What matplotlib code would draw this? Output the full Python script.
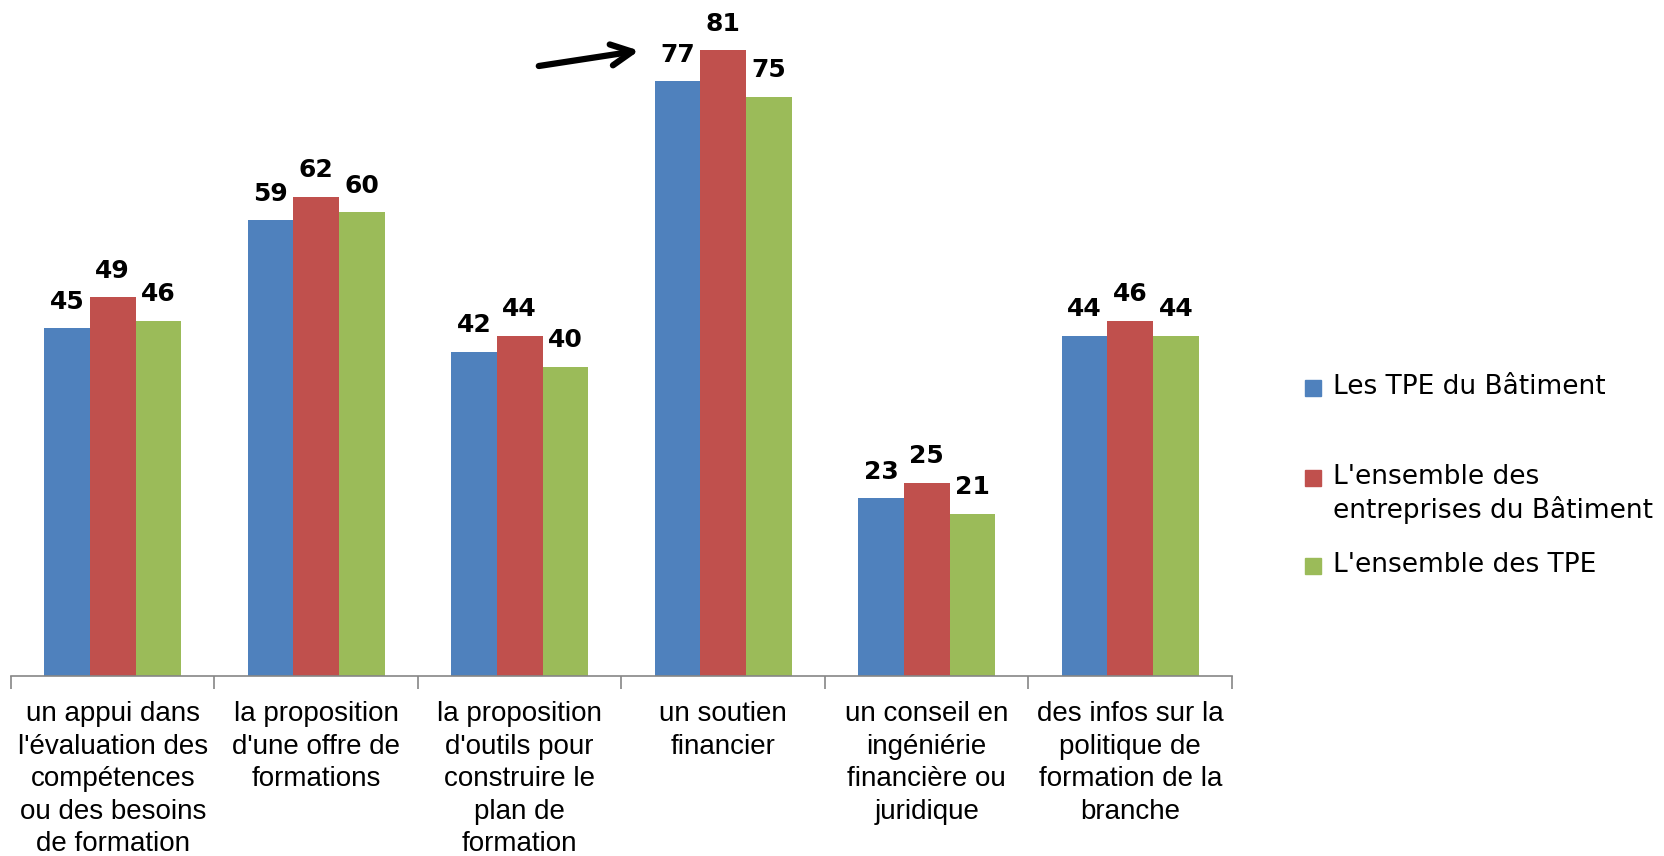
import numpy as np
import matplotlib
matplotlib.use("Agg")
from matplotlib import pyplot as plt
from matplotlib.patches import Rectangle

categories = ["un appui dans\nl'évaluation des\ncompétences\nou des besoins\nde formation",
              "la proposition\nd'une offre de\nformations",
              "la proposition\nd'outils pour\nconstruire le\nplan de\nformation",
              "un soutien\nfinancier",
              "un conseil en\ningéniérie\nfinancière ou\njuridique",
              "des infos sur la\npolitique de\nformation de la\nbranche"]
tpe_batiment = [45, 59, 42, 77, 23, 44]
ensemble_batiment = [49, 62, 44, 81, 25, 46]
ensemble_tpe = [46, 60, 40, 75, 21, 44]
series_names = ["Les TPE du Bâtiment",
                "L'ensemble des\nentreprises du Bâtiment",
                "L'ensemble des TPE"]
colors = ["#4F81BD", "#C0504D", "#9BBB59"]

W, H = 1665, 856
fig = plt.figure(figsize=(W / 100, H / 100), dpi=100)
ax = fig.add_axes([11 / W, (H - 676) / H, (1232 - 11) / W, 676 / H])

x = np.arange(len(categories))
bw = 0.224
series = [tpe_batiment, ensemble_batiment, ensemble_tpe]
for k, vals in enumerate(series):
    pos = x + (k - 1) * bw
    ax.bar(pos, vals, width=bw, color=colors[k], zorder=2)
    for p, v in zip(pos, vals):
        ax.annotate(str(v), (p, v), xytext=(0, 10.5), textcoords="offset points",
                    ha="center", va="bottom", fontsize=18, color="black",
                    family=["DejaVu Sans"], weight="semibold")

ax.set_xlim(-0.5, len(categories) - 0.5)
ax.set_ylim(0, 87.5)
for s in ["top", "right", "left"]:
    ax.spines[s].set_visible(False)
ax.spines["bottom"].set_color("#868686")
ax.spines["bottom"].set_linewidth(1.2)
ax.set_yticks([])
ax.set_xticks(x)
ax.set_xticklabels(categories, fontsize=20, linespacing=1.33,
                   family=["Liberation Sans"])
ax.tick_params(axis="x", which="major", length=0, pad=18)
ax.set_xticks(np.arange(-0.5, len(categories)), minor=True)
ax.tick_params(axis="x", which="minor", length=9, width=1.2, color="#868686")

# arrow pointing to the "soutien financier" group
ax.annotate("", xy=(2.60, 81.0), xytext=(2.08, 78.9),
            arrowprops=dict(arrowstyle="->", lw=4.5, color="black",
                            mutation_scale=38))

# legend drawn by hand to keep Excel's uneven spacing
leg_y = [388, 478, 566]
for k, name in enumerate(series_names):
    yc = leg_y[k]
    fig.patches.append(Rectangle((1305 / W, (H - yc - 8) / H), 16 / W, 16 / H,
                                 transform=fig.transFigure, color=colors[k]))
    fig.text(1333 / W, (H - yc + 14) / H, name, fontsize=19, va="top",
             ha="left", linespacing=1.25, family=["DejaVu Sans"])

fig.savefig("out.png", dpi=100)
